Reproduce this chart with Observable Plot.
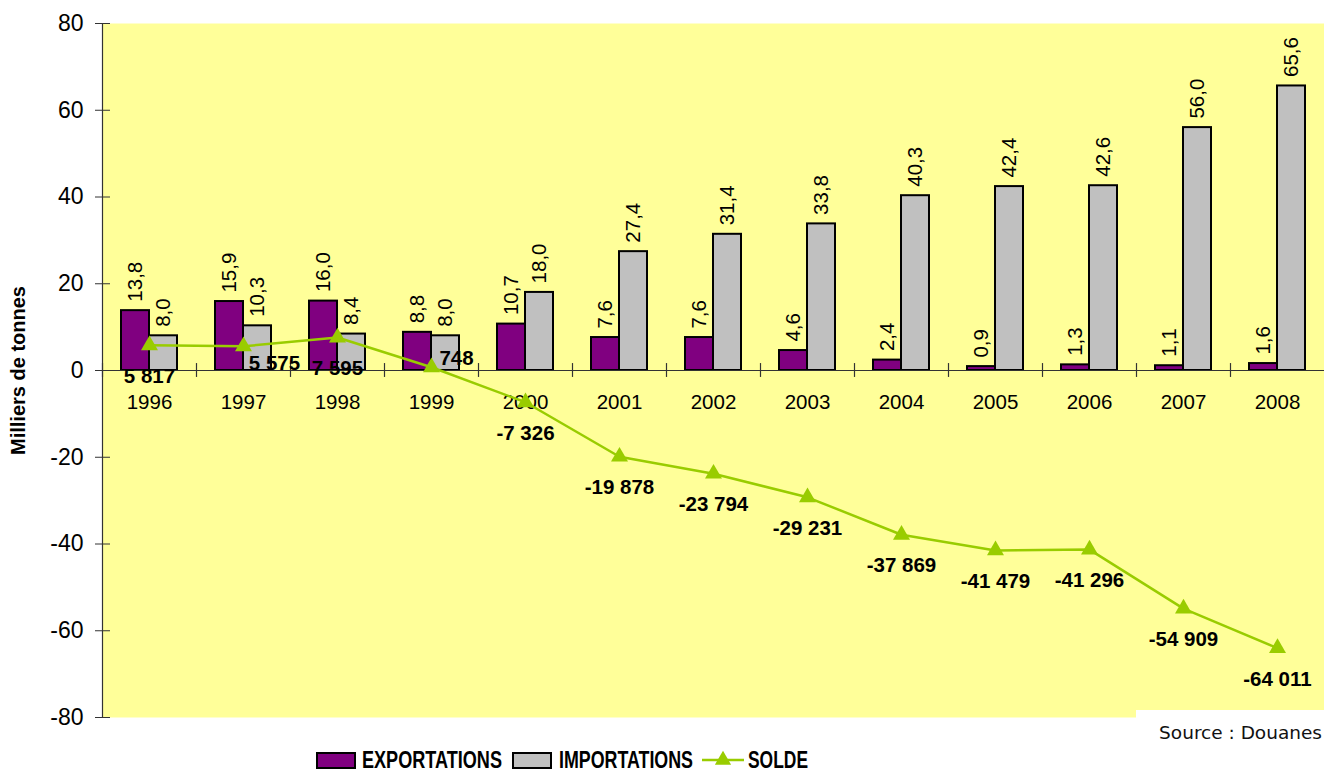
<!DOCTYPE html>
<html>
<head>
<meta charset="utf-8">
<script src="https://cdn.jsdelivr.net/npm/d3@7"></script>
<script src="https://cdn.jsdelivr.net/npm/@observablehq/plot@0.6"></script>
<style>
  html, body { margin: 0; padding: 0; background: white; }
  #wrap { position: relative; width: 1324px; height: 772px; overflow: hidden; font-family: "Liberation Sans", Arial, sans-serif; }
  #source { position: absolute; left: 1136px; top: 710px; width: 188px; height: 40px; background: white;
            font-family: "DejaVu Sans", Verdana, sans-serif; font-size: 18.5px; color: #111; }
  #source span { position: absolute; right: 2px; top: 12px; white-space: nowrap; }
  .lg { position: absolute; top: 747px; font-weight: bold; font-size: 23px; line-height: 26px; color: #000; white-space: nowrap;
        font-family: "Liberation Sans", Arial, sans-serif; transform-origin: 0 50%; }
  .sw { position: absolute; top: 752px; width: 36px; height: 13px; border: 2px solid #000; }
</style>
</head>
<body>
<div id="wrap"></div>
<script>
// ---- data ----
const years = ["1996","1997","1998","1999","2000","2001","2002","2003","2004","2005","2006","2007","2008"];
const exportations = [13.8, 15.9, 16.0, 8.8, 10.7, 7.6, 7.6, 4.6, 2.4, 0.9, 1.3, 1.1, 1.6];
const importations = [8.0, 10.3, 8.4, 8.0, 18.0, 27.4, 31.4, 33.8, 40.3, 42.4, 42.6, 56.0, 65.6];
const solde = [5817, 5575, 7595, 748, -7326, -19878, -23794, -29231, -37869, -41479, -41296, -54909, -64011];
const yTicks = [-80, -60, -40, -20, 0, 20, 40, 60, 80];
const yLabel = "Milliers de tonnes";
const sourceText = "Source : Douanes";
const seriesNames = ["EXPORTATIONS", "IMPORTATIONS", "SOLDE"];

// ---- layout (label nudges, px) ----
const soldeLabelOffsets = {"1997": [31, 17], "1999": [25, -9]};

const data = years.map((year, i) => ({year, exp: exportations[i], imp: importations[i], solde: solde[i] / 1000, soldeRaw: solde[i]}));
const fmt1 = v => v.toFixed(1).replace(".", ",");
const fmtS = v => (v < 0 ? "-" : "") + d3.format(",")(Math.abs(v)).replace(/,/g, " ");

const PURPLE = "#800080", GREY = "#c0c0c0", GREEN = "#99cc00", YELLOW = "#ffff99", AX = "#333";

const soldeLabelMarks = [];
const defaultGroup = data.filter(d => !(d.year in soldeLabelOffsets));
soldeLabelMarks.push(Plot.text(defaultGroup, {x: "year", y: "solde", text: d => fmtS(d.soldeRaw), dy: 31, fontWeight: "bold", fontSize: 20.5, fill: "#000"}));
for (const [yr, [dx, dy]] of Object.entries(soldeLabelOffsets)) {
  soldeLabelMarks.push(Plot.text(data.filter(d => d.year === yr), {x: "year", y: "solde", text: d => fmtS(d.soldeRaw), dx, dy, fontWeight: "bold", fontSize: 20.5, fill: "#000"}));
}

const chart = Plot.plot({
  width: 1324,
  height: 722,
  marginLeft: 102,
  marginRight: 0,
  marginTop: 23,
  marginBottom: 5,
  style: {fontFamily: "'Liberation Sans', Arial, sans-serif", background: "transparent", overflow: "visible", color: "#000"},
  x: {type: "band", domain: years, padding: 0, axis: null},
  y: {domain: [-80, 80], axis: null},
  marks: [
    Plot.frame({fill: YELLOW}),
    Plot.barY(data, {x: "year", y: "exp", fill: PURPLE, stroke: "#000", strokeWidth: 2, insetLeft: 19, insetRight: 47}),
    Plot.barY(data, {x: "year", y: "imp", fill: GREY, stroke: "#000", strokeWidth: 2, insetLeft: 47, insetRight: 19}),
    Plot.ruleY([0], {stroke: AX, strokeWidth: 1.2}),
    Plot.ruleX(years, {x: d => d, y1: -1.6, y2: 1.6, dx: -47, stroke: AX, strokeWidth: 1.2}),
    Plot.ruleX([years[0]], {x: d => d, dx: -47, stroke: AX, strokeWidth: 1.2}),
    Plot.axisY({ticks: yTicks, tickSize: 15, dx: 8, tickPadding: 12, fontSize: 23, tickFormat: d => String(d), stroke: AX, label: null}),
    Plot.text(years, {x: d => d, y: 0, dy: 32, fontSize: 20.5, fill: "#000"}),
    Plot.text(data, {x: "year", y: "exp", text: d => fmt1(d.exp), rotate: -90, textAnchor: "start", dx: -14, dy: -9, fontSize: 20.5, fill: "#000"}),
    Plot.text(data, {x: "year", y: "imp", text: d => fmt1(d.imp), rotate: -90, textAnchor: "start", dx: 14, dy: -9, fontSize: 20.5, fill: "#000"}),
    Plot.line(data, {x: "year", y: "solde", stroke: GREEN, strokeWidth: 2.5}),
    Plot.dot(data, {x: "year", y: "solde", symbol: "triangle", r: 6.3, fill: GREEN, stroke: "none"}),
    ...soldeLabelMarks,
    Plot.text([yLabel], {frameAnchor: "left", textAnchor: "middle", rotate: -90, dx: -84, fontWeight: "bold", fontSize: 20, fill: "#000"})
  ]
});

const wrap = document.getElementById("wrap");
wrap.appendChild(chart);

// source box (covers the bottom-right corner of the plot area, as in the original)
const src = document.createElement("div");
src.id = "source";
src.innerHTML = `<span>${sourceText}</span>`;
wrap.appendChild(src);

// legend (condensed bold labels, as in the original)
const legendItems = [
  {label: seriesNames[0], kind: "bar", color: PURPLE, swX: 316, txX: 362, txW: 140},
  {label: seriesNames[1], kind: "bar", color: GREY, swX: 512, txX: 559, txW: 134},
  {label: seriesNames[2], kind: "line", color: GREEN, swX: 702, txX: 748, txW: 60}
];
for (const it of legendItems) {
  if (it.kind === "bar") {
    const s = document.createElement("div");
    s.className = "sw";
    s.style.left = it.swX + "px";
    s.style.background = it.color;
    wrap.appendChild(s);
  } else {
    const ns = "http://www.w3.org/2000/svg";
    const svg = document.createElementNS(ns, "svg");
    svg.setAttribute("width", 42); svg.setAttribute("height", 24);
    svg.style.position = "absolute"; svg.style.left = it.swX + "px"; svg.style.top = "748px";
    const ln = document.createElementNS(ns, "line");
    ln.setAttribute("x1", 0); ln.setAttribute("x2", 42); ln.setAttribute("y1", 12); ln.setAttribute("y2", 12);
    ln.setAttribute("stroke", it.color); ln.setAttribute("stroke-width", 2.5);
    const tr = document.createElementNS(ns, "path");
    tr.setAttribute("d", d3.symbol(d3.symbolTriangle, Math.PI * 36)());
    tr.setAttribute("transform", "translate(21,12)");
    tr.setAttribute("fill", it.color);
    svg.appendChild(ln); svg.appendChild(tr);
    wrap.appendChild(svg);
  }
  const t = document.createElement("div");
  t.className = "lg";
  t.style.left = it.txX + "px";
  t.textContent = it.label;
  wrap.appendChild(t);
  const w = t.getBoundingClientRect().width;
  if (w > 0) t.style.transform = `scaleX(${it.txW / w})`;
}
</script>
</body>
</html>
